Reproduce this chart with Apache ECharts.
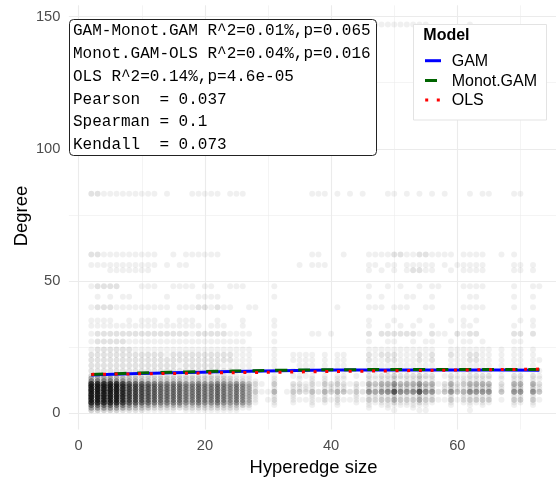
<!DOCTYPE html>
<html><head><meta charset="utf-8">
<script src="https://cdn.jsdelivr.net/npm/echarts@6/dist/echarts.min.js"></script>
<style>html,body{margin:0;padding:0;background:#fff}#c{width:558px;height:477px}</style>
</head><body><div id="c"></div>
<script>
// ---- data ----
const xColumns = [2,3,4,5,6,7,8,9,10,11,12,13,14,15,16,17,18,19,20,21,22,23,24,25,26,27,28,29,30,31,
  32,33,34,35,36,37,38,39,40,41,42,43,44,45,46,47,48,49,50,51,52,53,54,55,56,57,58,59,60,61,
  62,63,64,65,66,67,68,69,70,71,72,73];
const degreeLevels = [1,2,3,4,5,6,7,8,9,10,11,12,13,14,16,18,20,22,24,27,30,33,35,40,44,48,54,56,60,83,147];
// number of points (base 36) per (degree level, hyperedge size); groups: x2-11 | 12-21 | 22-31 | 32-41 | 42-51 | 52-61 | 62-71 | 72-73
const pointCounts = [
  "3333322221 1111011111 1111000000 0000000000 0000000010 0011000000 1000000000 00", // 1
  "6666554333 2222222222 2222110000 0000000000 0000100100 0100000000 0000000000 00", // 2
  "aaaa986655 4444433433 4333320001 0000010001 0000101111 1111000100 1010000100 10", // 3
  "mmmmlhdcba 9888877877 8767641001 0010010101 0010111121 1121100101 1111000110 10", // 4
  "mmmmlhdcba 9888877877 8767641012 0011111212 1111323353 3353311312 3333010330 31", // 5
  "mmmmlhdcba 9888877877 8767641001 0010010101 0010111121 1121100101 1111000110 10", // 6
  "mmmmlhdcba 9888877877 8767641001 0010010101 0010111121 1121100101 1111000110 10", // 7
  "mmmmlhdcba 9888877877 8767643115 0133242535 42328689h9 89h9824845 9888040880 84", // 8
  "mmmmlhdcba 9888877877 8767641001 0011110111 1010212232 2232201211 2222010220 21", // 9
  "mmmmlhdcba 9888877877 8767641001 0011110111 1010212232 2232201211 2222010220 21", // 10
  "mmmmlhdcba 9888877877 8767642103 0022121323 2121545585 5585512523 5555020550 52", // 11
  "8888764443 3333322322 3322211001 0000010101 0000101110 1110100101 1110000110 10", // 12
  "5555443322 2222222222 2221110001 0001010101 1000111121 1121100111 1111010110 11", // 13
  "3333322222 2222222222 2211110001 0011110101 1010212232 2232201211 2222010220 21", // 14
  "2222222222 2222222222 2221110001 0011110101 1000211221 1121100111 2111010110 11", // 16
  "2222222222 2222122222 2111110001 0001110101 1000111111 1111100111 1111010110 10", // 18
  "2222222222 2222222222 2221110001 0011110101 1000211221 1121200111 2211010110 11", // 20
  "2222222222 2212222222 2221110001 0011110101 1000212221 1121200211 2211010110 10", // 22
  "1222222111 1111111111 1111110001 0000000000 0000111111 1111100111 1111010110 10", // 24
  "1222221111 1111111111 1111100001 0000000000 0000100110 0101100101 1010000110 00", // 27
  "1222222222 2222221222 2211110001 0000011010 0000202222 2210211021 2200000220 20", // 30
  "1111111111 1111111101 1100100001 0000000000 0000100101 0100100001 1000000100 10", // 33
  "1111001011 1010111000 1000100001 0000000000 0000100010 0010000101 0100000010 10", // 35
  "1222111111 1110111221 2110011000 0000000001 0000111011 1001100001 1110000100 10", // 40
  "0101011000 0010000111 1000000001 0000000000 0000101000 1100100000 1100000100 10", // 44
  "1222200011 1001111011 0011100001 0000000000 0000100101 0010110001 1110000100 11", // 48
  "0001111111 0000000000 0000000000 0000000000 0000101010 1221100101 1110000110 10", // 54
  "1111111111 1010110000 0000000000 0001011100 0000110110 1111101011 1110000110 10", // 56
  "2211111111 1001011111 1000000000 0000011000 1000111122 1122111101 1110010100 00", // 60
  "2211111111 1010001111 1011100000 0000011101 0101000110 1010101000 1011000110 00", // 83
  "1111111111 1111111111 1111000000 0000010101 0101011111 1111000000 1000000000 00"  // 147
];
const gamX = [2, 7, 12, 17, 22, 27, 32, 37, 45, 55, 65, 73];
const gamY = [14.4, 14.75, 15.05, 15.3, 15.55, 15.8, 16.0, 16.15, 16.25, 16.3, 16.25, 16.2];
const monoGamY = [14.6, 14.95, 15.25, 15.5, 15.75, 15.95, 16.15, 16.3, 16.4, 16.45, 16.45, 16.45];
const olsX = [2, 73];
const olsY = [14.6, 16.6];
const xTickValues = [0, 20, 40, 60];
const yTickValues = [0, 50, 100, 150];
const xGridMajor = [0, 20, 40, 60];
const xGridMinor = [10, 30, 50, 70];
const yGridMajor = [0, 50, 100, 150];
const yGridMinor = [25, 75, 125];
const statLines = [
  "GAM-Monot.GAM R^2=0.01%,p=0.065",
  "Monot.GAM-OLS R^2=0.04%,p=0.016",
  "OLS R^2=0.14%,p=4.6e-05",
  "Pearson  = 0.037",
  "Spearman = 0.1",
  "Kendall  = 0.073"
];
const legendTitle = "Model";
const legendNames = ["GAM", "Monot.GAM", "OLS"];

// ---- build ----
const scatterData = [];
degreeLevels.forEach((deg, i) => {
  const row = pointCounts[i].replace(/\s+/g, "");
  for (let j = 0; j < xColumns.length && j < row.length; j++) {
    const n = parseInt(row[j], 36);
    for (let k = 0; k < n; k++) scatterData.push([xColumns[j], deg]);
  }
});
const pairs = (xs, ys) => xs.map((x, i) => [x, ys[i]]);

const SANS = "'Liberation Sans', Arial, sans-serif";
const MONO = "'Liberation Mono', 'Courier New', monospace";
const gridColor = "#ebebeb";

const markLines = [];
xGridMajor.forEach(v => markLines.push({xAxis: v, lineStyle: {color: gridColor, width: 1.1, type: 'solid'}}));
xGridMinor.forEach(v => markLines.push({xAxis: v, lineStyle: {color: gridColor, width: 0.55, type: 'solid'}}));
yGridMajor.forEach(v => markLines.push({yAxis: v, lineStyle: {color: gridColor, width: 1.1, type: 'solid'}}));
yGridMinor.forEach(v => markLines.push({yAxis: v, lineStyle: {color: gridColor, width: 0.55, type: 'solid'}}));

const chart = echarts.init(document.getElementById('c'), null, {renderer: 'canvas'});
const Z = {zlevel: 5, z: 100};
const graphics = [];
// axis titles
graphics.push(Object.assign({type: 'text', x: 313.5, y: 468,
  style: {text: 'Hyperedge size', font: "18.4px " + SANS, fill: '#000', align: 'center', verticalAlign: 'middle'}}, Z));
graphics.push(Object.assign({type: 'text', x: 21.7, y: 216, rotation: Math.PI / 2,
  style: {text: 'Degree', font: "18.4px " + SANS, fill: '#000', align: 'center', verticalAlign: 'middle'}}, Z));
// stats box
graphics.push(Object.assign({type: 'rect', shape: {x: 69.5, y: 19.5, width: 307, height: 136, r: 4},
  style: {fill: '#ffffff', stroke: '#222', lineWidth: 1}}, Z));
statLines.forEach((t, i) => {
  graphics.push({type: 'text', x: 73, y: 30.8 + i * 22.85, zlevel: 5, z: 101,
    style: {text: t, font: "16px " + MONO, fill: '#000', align: 'left', verticalAlign: 'middle'}});
});
// legend
graphics.push(Object.assign({type: 'rect', shape: {x: 413.5, y: 24.5, width: 133, height: 95.5},
  style: {fill: '#ffffff', stroke: '#e3e3e3', lineWidth: 1}}, Z));
graphics.push({type: 'text', x: 423.3, y: 35.5, zlevel: 5, z: 101,
  style: {text: legendTitle, font: "bold 16px " + SANS, fill: '#000', align: 'left', verticalAlign: 'middle'}});
const keyY = [60.7, 80.5, 100];
graphics.push({type: 'line', zlevel: 5, z: 101, shape: {x1: 425, y1: keyY[0], x2: 441, y2: keyY[0]},
  style: {stroke: '#0000ff', lineWidth: 3}});
graphics.push({type: 'line', zlevel: 5, z: 101, shape: {x1: 425, y1: keyY[1], x2: 437, y2: keyY[1]},
  style: {stroke: '#006400', lineWidth: 3}});
graphics.push({type: 'line', zlevel: 5, z: 101, shape: {x1: 425.2, y1: keyY[2], x2: 441, y2: keyY[2]},
  style: {stroke: '#ff0000', lineWidth: 3, lineDash: [3, 8.6]}});
legendNames.forEach((n, i) => {
  graphics.push({type: 'text', x: 451.7, y: keyY[i] + 0.8, zlevel: 5, z: 101,
    style: {text: n, font: "16px " + SANS, fill: '#000', align: 'left', verticalAlign: 'middle'}});
});

chart.setOption({
  animation: false,
  backgroundColor: '#fff',
  grid: {left: 68.9, top: 5.3, right: 2, bottom: 47.4, containLabel: false, outerBoundsMode: 'none'},
  xAxis: {
    type: 'value', min: -1.55, max: 75.64,
    axisLine: {show: false}, axisTick: {show: false}, splitLine: {show: false},
    axisLabel: {customValues: xTickValues, color: '#4d4d4d', fontSize: 14.7, fontFamily: SANS, margin: 9}
  },
  yAxis: {
    type: 'value', min: -6.3, max: 154.3,
    axisLine: {show: false}, axisTick: {show: false}, splitLine: {show: false},
    axisLabel: {customValues: yTickValues, color: '#4d4d4d', fontSize: 14.7, fontFamily: SANS, margin: 8.5}
  },
  graphic: {zlevel: 5, z: 100, elements: graphics},
  series: [
    {type: 'scatter', name: 'grid', data: [], silent: true, z: 0, zlevel: 0,
      markLine: {silent: true, z: 0, zlevel: 0, symbol: ['none', 'none'], label: {show: false}, animation: false, data: markLines}},
    {type: 'scatter', name: 'points', data: scatterData, symbolSize: 6, silent: true, z: 2, zlevel: 0,
      progressive: 0, large: false, itemStyle: {color: '#000', opacity: 0.06}},
    {type: 'line', name: 'GAM', data: pairs(gamX, gamY), smooth: 0.4, showSymbol: false, symbol: 'none', z: 3, zlevel: 0,
      lineStyle: {color: '#0000ff', width: 3}},
    {type: 'line', name: 'Monot.GAM', data: pairs(gamX, monoGamY), smooth: 0.4, showSymbol: false, symbol: 'none', z: 4, zlevel: 0,
      lineStyle: {color: '#006400', width: 3, type: [12, 11]}},
    {type: 'line', name: 'OLS', data: pairs(olsX, olsY), showSymbol: false, symbol: 'none', z: 5, zlevel: 0,
      lineStyle: {color: '#ff0000', width: 3, type: [3, 8.7]}}
  ]
});
</script>
</body></html>
